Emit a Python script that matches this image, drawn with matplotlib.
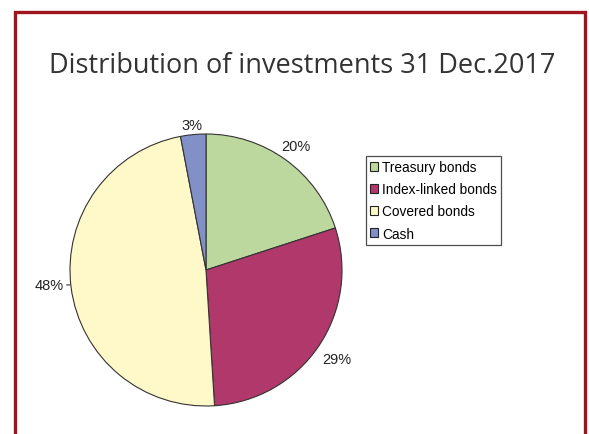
import numpy as np
import matplotlib
matplotlib.use("Agg")
import matplotlib.pyplot as plt
from matplotlib.patches import Rectangle

title = "Distribution of investments 31 Dec.2017"
categories = ["Treasury bonds", "Index-linked bonds", "Covered bonds", "Cash"]
values = [20, 29, 48, 3]
colors = ["#BCD89E", "#B0386A", "#FFF9C9", "#8290C8"]

W, H = 589, 435
fig = plt.figure(figsize=(W / 100, H / 100), dpi=100)
fig.patch.set_facecolor("white")

# red frame
fig.add_artist(Rectangle((15 / W, -0.05), (585 - 15) / W, 1.05 - 12.5 / H,
                         transform=fig.transFigure, fill=False,
                         edgecolor="#A0141E", linewidth=2.4))

fig.text(302 / W, 1 - 66 / H, title, ha="center", va="center",
         fontsize=19.5, color="#333333", family="Open Sans")

cx, cy, R = 206, 271, 136
ax = fig.add_axes([(cx - R) / W, (H - cy - R) / H, 2 * R / W, 2 * R / H])
wedges, _ = ax.pie(values, colors=colors, startangle=90, counterclock=False,
                   wedgeprops=dict(edgecolor="#333333", linewidth=0.8))
ax.set_xlim(-1, 1)
ax.set_ylim(-1, 1)
ax.set_aspect("equal")
ax.axis("off")

label_dist = [1.13, 1.16, 1.1, 1.07]
for w, v, d in zip(wedges, values, label_dist):
    mid = np.deg2rad((w.theta1 + w.theta2) / 2)
    x, y = d * np.cos(mid), d * np.sin(mid)
    if v == 48:
        ax.annotate(f"{v}%", xy=(-1.0, -0.11), xytext=(-1.045, -0.11),
                    ha="right", va="center", fontsize=10.5, color="#222222",
                    family="Liberation Sans",
                    arrowprops=dict(arrowstyle="-", color="#333333", lw=0.8,
                                    shrinkA=0, shrinkB=0))
    else:
        ax.text(x, y, f"{v}%", ha="center", va="center", fontsize=10.5,
                color="#222222", family="Liberation Sans", clip_on=False)

handles = [Rectangle((0, 0), 1, 1, facecolor=c, edgecolor="#222222", lw=0.8)
           for c in colors]
leg = fig.legend(handles, categories, loc="upper left",
                 bbox_to_anchor=(366 / W, 1 - 157 / H),
                 prop=dict(family="Liberation Sans", size=9.8),
                 frameon=True, fancybox=False, edgecolor="#222222",
                 handlelength=0.6, handleheight=0.6, handletextpad=0.3,
                 labelspacing=0.6, borderpad=0.3, borderaxespad=0)
leg.get_frame().set_linewidth(0.9)

fig.savefig("out.png", dpi=100)
